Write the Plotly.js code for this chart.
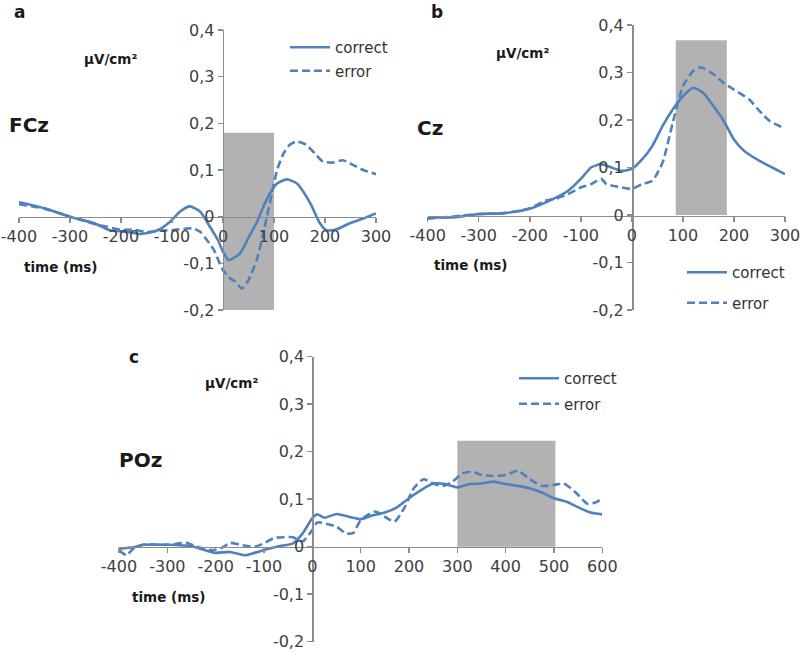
<!DOCTYPE html>
<html>
<head>
<meta charset="utf-8">
<script src="https://cdn.plot.ly/plotly-3.0.1.min.js"></script>
<style>html,body{margin:0;padding:0;background:#fff;}#chart{width:800px;height:652px;}</style>
</head>
<body>
<div id="chart"></div>
<script>
// ---------- data ----------
const seriesNames = ["correct", "error"];
const panelLetters = ["a", "b", "c"];
const electrodes = ["FCz", "Cz", "POz"];
const unitLabel = "µV/cm²";
const timeLabel = "time (ms)";

const yTickVals = [-0.2, -0.1, 0, 0.1, 0.2, 0.3, 0.4];
const yTickText = ["-0,2", "-0,1", "0", "0,1", "0,2", "0,3", "0,4"];
const xTicksAB = [-400, -300, -200, -100, 0, 100, 200, 300];
const xTicksC = [-400, -300, -200, -100, 0, 100, 200, 300, 400, 500, 600];

// Panel a (FCz)
const tA_correct = [-400,-350,-300,-250,-222,-202,-180,-163,-143,-124,-104,-84,-65,-45,-26,-10,0,11,22,34,50,60,66,79,96,106,125,145,171,190,203,223,249,275,300];
const vA_correct = [0.031,0.018,0.0,-0.015,-0.029,-0.031,-0.034,-0.037,-0.034,-0.027,-0.011,0.011,0.022,0.011,-0.021,-0.05,-0.075,-0.093,-0.088,-0.078,-0.045,-0.025,-0.013,0.021,0.057,0.071,0.08,0.071,0.029,-0.014,-0.029,-0.027,-0.014,-0.004,0.007];
const tA_error = [-400,-350,-300,-250,-200,-175,-150,-125,-100,-75,-60,-45,-35,-18,0,15,25,37,50,66,76,86,96,106,119,131,144,163,183,196,216,235,255,275,300];
const vA_error = [0.027,0.017,0.0,-0.016,-0.028,-0.028,-0.033,-0.03,-0.029,-0.026,-0.025,-0.032,-0.045,-0.071,-0.115,-0.133,-0.14,-0.154,-0.136,-0.093,-0.05,0.0,0.05,0.1,0.136,0.154,0.161,0.154,0.132,0.118,0.116,0.121,0.111,0.1,0.091];
const shadeA = [0, 100, -0.2, 0.18];

// Panel b (Cz)
const tB_correct = [-400,-350,-300,-250,-200,-150,-125,-100,-80,-60,-40,-20,0,20,40,60,80,100,120,140,160,180,200,220,250,275,300];
const vB_correct = [-0.005,-0.005,0.002,0.004,0.013,0.036,0.051,0.076,0.1,0.107,0.1,0.093,0.097,0.117,0.145,0.187,0.222,0.25,0.268,0.257,0.229,0.198,0.159,0.135,0.114,0.1,0.086];
const tB_error = [-400,-350,-300,-250,-200,-170,-150,-125,-100,-80,-60,-50,-40,-20,0,20,40,60,80,100,120,135,160,180,200,230,250,270,290,300];
const vB_error = [-0.008,-0.003,0.002,0.004,0.014,0.03,0.034,0.044,0.058,0.065,0.076,0.065,0.062,0.058,0.055,0.065,0.072,0.11,0.194,0.271,0.303,0.311,0.296,0.278,0.264,0.243,0.219,0.198,0.187,0.184];
const shadeB = [86, 186, 0, 0.368];

// Panel c (POz)
const tC_correct = [-400,-370,-350,-300,-250,-220,-200,-170,-140,-120,-100,-70,-40,-20,0,10,25,50,75,100,125,150,175,200,225,250,275,300,325,350,375,400,425,450,475,500,525,550,575,600];
const vC_correct = [-0.004,-0.001,0.004,0.004,0.001,-0.008,-0.013,-0.011,-0.018,-0.013,-0.007,0.001,0.007,0.028,0.06,0.068,0.061,0.069,0.063,0.058,0.066,0.072,0.083,0.102,0.119,0.133,0.132,0.125,0.132,0.133,0.137,0.132,0.128,0.123,0.114,0.102,0.095,0.083,0.072,0.068];
const tC_error = [-400,-385,-370,-350,-300,-260,-240,-210,-190,-170,-150,-120,-100,-80,-60,-40,-20,0,10,30,50,70,85,100,130,150,170,190,210,230,250,270,290,310,330,350,375,400,425,450,475,500,520,545,570,590,600];
const vC_error = [-0.007,-0.018,-0.004,0.004,0.004,0.008,0.0,-0.007,-0.004,0.008,0.004,0.0,0.007,0.018,0.02,0.02,0.011,0.035,0.051,0.048,0.042,0.028,0.029,0.056,0.074,0.063,0.053,0.081,0.123,0.142,0.133,0.128,0.137,0.154,0.158,0.151,0.149,0.151,0.16,0.142,0.128,0.13,0.133,0.114,0.09,0.095,0.105];
const shadeC = [300, 503, 0, 0.223];

// ---------- layout helpers (pixel -> paper) ----------
const W = 800, H = 652;
const px = x => x / W;
const py = y => 1 - y / H;

const lineColor = "#4f81bd";
const axisColor = "#8c8c8c";
const tickFont = {family: "DejaVu Sans", size: 16, color: "#404040"};
const boldFont = s => ({family: "DejaVu Sans", size: s, color: "#1a1a1a", weight: "bold"});

function mkTraces(tc, vc, te, ve, xa, ya, leg) {
  return [
    {x: tc, y: vc, xaxis: xa, yaxis: ya, type: "scatter", mode: "lines", name: seriesNames[0],
     legend: leg, legendgroup: leg + "c",
     line: {color: lineColor, width: 2.6, shape: "spline", smoothing: 0.6}},
    {x: te, y: ve, xaxis: xa, yaxis: ya, type: "scatter", mode: "lines", name: seriesNames[1],
     legend: leg, legendgroup: leg + "e",
     line: {color: lineColor, width: 2.6, dash: "8px,4px", shape: "spline", smoothing: 0.6}}
  ];
}

const data = [].concat(
  mkTraces(tA_correct, vA_correct, tA_error, vA_error, "x", "y", "legend"),
  mkTraces(tB_correct, vB_correct, tB_error, vB_error, "x2", "y2", "legend2"),
  mkTraces(tC_correct, vC_correct, tC_error, vC_error, "x3", "y3", "legend3")
);

function xAx(dom, rng, ticks, posPx) {
  return {domain: dom, range: rng, anchor: "free", position: py(posPx),
    tickvals: ticks, ticktext: ticks.map(String), tickfont: tickFont, ticklabeloverflow: "allow",
    showgrid: false, zeroline: false, showline: true, linecolor: axisColor, linewidth: 1.5,
    ticks: "outside", ticklen: 5, tickcolor: axisColor, tickwidth: 1.5, automargin: false, fixedrange: true};
}
function yAx(dom, posPx) {
  return {domain: dom, range: [-0.2, 0.4], anchor: "free", position: px(posPx),
    tickvals: yTickVals, ticktext: yTickText, tickfont: tickFont, ticklabeloverflow: "allow",
    showgrid: false, zeroline: false, showline: true, linecolor: axisColor, linewidth: 1.5,
    ticks: "outside", ticklen: 5, tickcolor: axisColor, tickwidth: 1.5, automargin: false, fixedrange: true};
}

function shade(s, xr, yr) {
  return {type: "rect", xref: xr, yref: yr, x0: s[0], x1: s[1], y0: s[2], y1: s[3],
    fillcolor: "#b2b2b2", line: {width: 0}, layer: "below"};
}

function ann(text, x, y, size) {
  return {text: text, xref: "paper", yref: "paper", x: px(x), y: py(y),
    xanchor: "center", yanchor: "middle", showarrow: false, font: boldFont(size)};
}

function leg(xPx, yPx, gap) {
  return {x: px(xPx), y: py(yPx), xanchor: "left", yanchor: "top", bgcolor: "rgba(0,0,0,0)",
    borderwidth: 0, font: {family: "DejaVu Sans", size: 15, color: "#333"}, tracegroupgap: gap,
    itemwidth: 40};
}

const layout = {
  width: W, height: H,
  margin: {l: 0, r: 0, t: 0, b: 0},
  paper_bgcolor: "#fff", plot_bgcolor: "rgba(0,0,0,0)",
  showlegend: true,
  xaxis: xAx([px(19), px(376)], [-400, 300], xTicksAB, 216.7),
  yaxis: yAx([py(310), py(30)], 222.7),
  xaxis2: xAx([px(427.7), px(785)], [-400, 300], xTicksAB, 215.5),
  yaxis2: yAx([py(310), py(25)], 632),
  xaxis3: xAx([px(119), px(602.3)], [-400, 600], xTicksC, 546.7),
  yaxis3: yAx([py(641.7), py(356.7)], 312.3),
  shapes: [shade(shadeA, "x", "y"), shade(shadeB, "x2", "y2"), shade(shadeC, "x3", "y3")],
  annotations: [
    ann(panelLetters[0], 19, 12, 17), ann(electrodes[0], 29, 125, 20), ann(unitLabel, 110, 59, 13.5), ann(timeLabel, 60, 267, 13.5),
    ann(panelLetters[1], 437, 12, 17), ann(electrodes[1], 430, 128, 20), ann(unitLabel, 522, 53, 13.5), ann(timeLabel, 470, 265, 13.5),
    ann(panelLetters[2], 134, 357, 17), ann(electrodes[2], 140, 460, 20), ann(unitLabel, 232, 383, 13.5), ann(timeLabel, 168, 597, 13.5)
  ],
  legend: leg(285, 31, 1),
  legend2: leg(682, 256, 8),
  legend3: leg(514, 362, 3)
};

Plotly.newPlot("chart", data, layout, {staticPlot: true, displayModeBar: false});
</script>
</body>
</html>
